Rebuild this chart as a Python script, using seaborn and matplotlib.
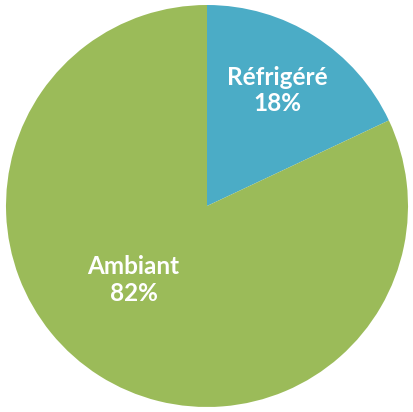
import matplotlib
matplotlib.use("Agg")
import matplotlib.pyplot as plt
import seaborn as sns

sns.set_theme(style="white")
plt.rcParams['font.family'] = ['Lato', 'DejaVu Sans']

categories = ["Réfrigéré", "Ambiant"]
values = [18, 82]
colors = ["#4BACC6", "#9BBB59"]

fig = plt.figure(figsize=(4.14, 4.12), dpi=100)
r_px = 201
cx, cy = 207, 206
ax = fig.add_axes([(cx - r_px) / 414, (412 - cy - r_px) / 412, 2 * r_px / 414, 2 * r_px / 412])
ax.pie(values, colors=colors, startangle=90, counterclock=False, radius=1,
       wedgeprops=dict(linewidth=0))
ax.set_xlim(-1, 1)
ax.set_ylim(-1, 1)
ax.set_aspect('equal')
ax.axis('off')

label_pos = [(0.35, 0.575), (-0.365, -0.37)]
for cat, val, (x, y) in zip(categories, values, label_pos):
    ax.text(x, y, f"{cat}\n{val}%", ha='center', va='center', color='white',
            fontsize=17.5, fontweight='bold', linespacing=1.2)

fig.savefig("out.png", dpi=100)
